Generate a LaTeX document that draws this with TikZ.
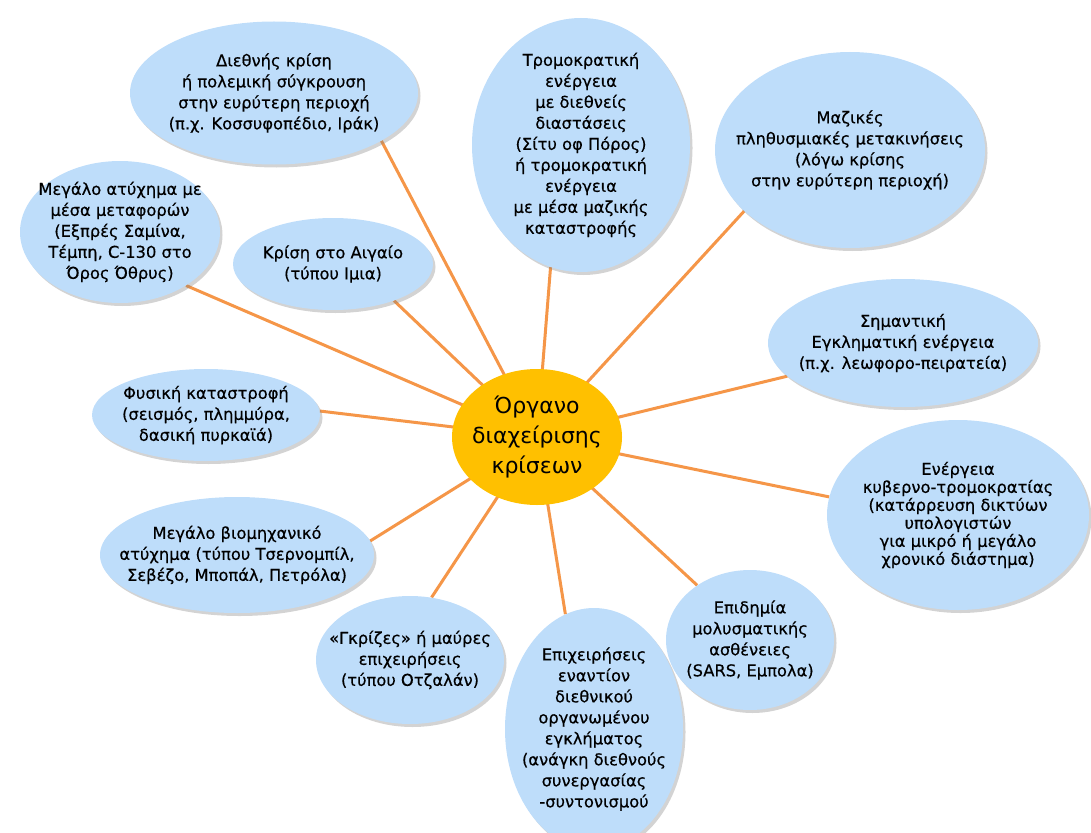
\documentclass[tikz,border=0pt]{standalone}
\usepackage{fontspec}
\setmainfont[FakeBold=0.4]{DejaVu Sans}
\newfontfamily\hubfont{DejaVu Sans}
\usetikzlibrary{shapes.geometric, shadows, backgrounds}

\definecolor{topicblue}{RGB}{190,221,250}
\definecolor{hubgold}{RGB}{255,192,0}
\definecolor{linkorange}{RGB}{245,150,72}

\begin{document}
\begin{tikzpicture}[x=1pt, y=-1pt,
    topic/.style={ellipse, fill=topicblue, inner xsep=-30pt, inner ysep=-15pt, align=center,
        font=\fontsize{16.3}{21}\selectfont,
        drop shadow={shadow xshift=2.5pt, shadow yshift=-3pt, opacity=0.35}},
    hub/.style={ellipse, fill=hubgold, inner sep=-15pt, align=center,
        font=\hubfont\fontsize{22}{30}\selectfont},
    link/.style={line width=3pt, color=linkorange}]

    \useasboundingbox (0, 0) rectangle (1091, 832);

    \node (hub) [hub, minimum width=170pt, minimum height=136pt] at (537, 437)
        {Όργανο\\ διαχείρισης\\ κρίσεων};

    \node (intl) [topic, minimum width=288pt, minimum height=143pt] at (274, 93)
        {Διεθνής κρίση\\ ή πολεμική σύγκρουση\\ στην ευρύτερη περιοχή\\ (π.χ. Κοσσυφοπέδιο, Ιράκ)};
    \node (terror) [topic, minimum width=218pt, minimum height=254pt] at (581, 145)
        {Τρομοκρατική\\ ενέργεια\\ με διεθνείς\\ διαστάσεις\\ (Σίτυ οφ Πόρος)\\ ή τρομοκρατική\\ ενέργεια\\ με μέσα μαζικής\\ καταστροφής};
    \node (migration) [topic, minimum width=270pt, minimum height=196pt] at (850, 150)
        {Μαζικές\\ πληθυσμιακές μετακινήσεις\\ (λόγω κρίσης\\ στην ευρύτερη περιοχή)};
    \node (piracy) [topic, minimum width=270pt, minimum height=128pt] at (903, 343)
        {Σημαντική\\ Εγκληματική ενέργεια\\ (π.χ. λεωφορο-πειρατεία)};
    \node (cyber) [topic, minimum width=262pt, minimum height=190pt, font=\fontsize{16.3}{18}\selectfont] at (958, 515)
        {Ενέργεια\\ κυβερνο-τρομοκρατίας\\ (κατάρρευση δικτύων\\ υπολογιστών\\ για μικρό ή μεγάλο\\ χρονικό διάστημα)};
    \node (epidemic) [topic, minimum width=168pt, minimum height=140pt] at (750, 640)
        {Επιδημία\\ μολυσματικής\\ ασθένειες\\ (SARS, Εμπολα)};
    \node (crime) [topic, minimum width=178pt, minimum height=242pt] at (594, 729)
        {Επιχειρήσεις\\ εναντίον\\ διεθνικού\\ οργανωμένου\\ εγκλήματος\\ (ανάγκη διεθνούς\\ συνεργασίας\\ -συντονισμού};
    \node (grey) [topic, minimum width=188pt, minimum height=128pt] at (410, 660)
        {«Γκρίζες» ή μαύρες\\ επιχειρήσεις\\ (τύπου Οτζαλάν)};
    \node (industry) [topic, minimum width=274pt, minimum height=116pt] at (237, 555)
        {Μεγάλο βιομηχανικό\\ ατύχημα (τύπου Τσερνομπίλ,\\ Σεβέζο, Μποπάλ, Πετρόλα)};
    \node (nature) [topic, minimum width=228pt, minimum height=92pt] at (206, 415)
        {Φυσική καταστροφή\\ (σεισμός, πλημμύρα,\\ δασική πυρκαϊά)};
    \node (transport) [topic, minimum width=200pt, minimum height=142pt] at (120, 232)
        {Μεγάλο ατύχημα με\\ μέσα μεταφορών\\ (Εξπρές Σαμίνα,\\ Τέμπη, C-130 στο\\ Όρος Όθρυς)};
    \node (aegean) [topic, minimum width=200pt, minimum height=92pt] at (333, 264)
        {Κρίση στο Αιγαίο\\ (τύπου Ιμια)};

    \begin{scope}[on background layer]
        \foreach \t/\a in {intl/-24, terror/-104, migration/-150, piracy/-164,
                           cyber/172, epidemic/134, crime/104, grey/71,
                           industry/6, nature/2, transport/-39, aegean/-31}
            \draw [link] (hub.center) -- (\t.\a);
    \end{scope}

\end{tikzpicture}
\end{document}
